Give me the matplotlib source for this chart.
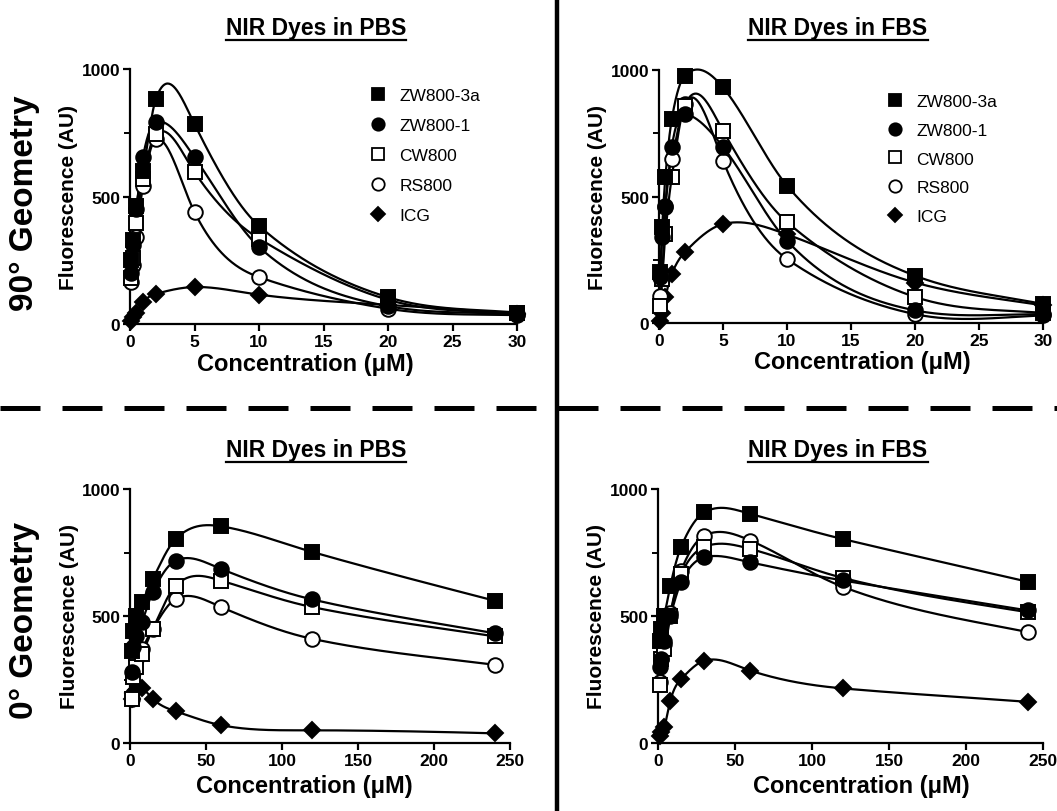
import numpy as np
import matplotlib
matplotlib.use("Agg")
import matplotlib.pyplot as plt
from matplotlib.lines import Line2D
from matplotlib.ticker import MultipleLocator

plt.rcParams['font.family'] = ['Liberation Sans', 'DejaVu Sans']

# ---------------- data ----------------
dyes = ["ZW800-3a", "ZW800-1", "CW800", "RS800", "ICG"]

conc_90 = [0.1, 0.25, 0.5, 1, 2, 5, 10, 20, 30]
conc_0 = [1, 2, 4, 8, 15, 30, 60, 120, 240]

pbs_90 = {
    "ZW800-3a": [250, 330, 464, 600, 882, 784, 385, 105, 45],
    "ZW800-1": [200, 310, 450, 654, 792, 654, 302, 70, 40],
    "CW800": [180, 260, 395, 570, 745, 596, 335, 95, 42],
    "RS800": [165, 230, 340, 540, 725, 439, 184, 60, 35],
    "ICG": [12, 28, 45, 85, 118, 145, 115, 75, 40],
}
fbs_90 = {
    "ZW800-3a": [200, 380, 578, 806, 977, 931, 543, 187, 75],
    "ZW800-1": [182, 340, 464, 696, 826, 696, 325, 50, 35],
    "CW800": [68, 174, 352, 577, 859, 760, 399, 103, 40],
    "RS800": [108, 182, 460, 648, 866, 641, 253, 35, 30],
    "ICG": [8, 40, 102, 194, 279, 391, 350, 160, 70],
}
pbs_0 = {
    "ZW800-3a": [363, 442, 500, 554, 646, 803, 853, 752, 560],
    "ZW800-1": [280, 378, 420, 476, 594, 718, 685, 565, 432],
    "CW800": [173, 260, 300, 350, 449, 619, 639, 535, 420],
    "RS800": [175, 280, 330, 370, 450, 567, 535, 410, 308],
    "ICG": [175, 195, 210, 215, 173, 125, 70, 50, 38],
}
fbs_0 = {
    "ZW800-3a": [400, 450, 501, 619, 772, 908, 902, 803, 635],
    "ZW800-1": [300, 330, 400, 500, 633, 731, 711, 640, 522],
    "CW800": [230, 330, 370, 500, 665, 772, 764, 650, 515],
    "RS800": [240, 330, 390, 510, 678, 816, 797, 615, 437],
    "ICG": [29, 45, 62, 167, 252, 324, 285, 215, 162],
}

titles = ["NIR Dyes in PBS", "NIR Dyes in FBS", "NIR Dyes in PBS", "NIR Dyes in FBS"]
row_labels = ["90° Geometry", "0° Geometry"]
xlabel = "Concentration (μM)"
ylabel = "Fluorescence (AU)"

styles = {
    "ZW800-3a": dict(marker='s', mfc='black', ms=9.5),
    "ZW800-1": dict(marker='o', mfc='black', ms=10.5),
    "CW800": dict(marker='s', mfc='white', ms=9.5),
    "RS800": dict(marker='o', mfc='white', ms=10.5),
    "ICG": dict(marker='D', mfc='black', ms=8.5),
}
draw_order = ["ICG", "RS800", "CW800", "ZW800-1", "ZW800-3a"]


def smooth_curve(x, y, n=500, w=0.5):
    """Hermite curve through the data points; knot slopes are a blend of
    natural-cubic-spline slopes and Catmull-Rom slopes."""
    x = np.asarray(x, float)
    y = np.asarray(y, float)
    k = len(x)
    h = np.diff(x)
    A = np.zeros((k, k))
    r = np.zeros(k)
    A[0, 0] = 1
    A[-1, -1] = 1
    for i in range(1, k - 1):
        A[i, i - 1] = h[i - 1]
        A[i, i] = 2 * (h[i - 1] + h[i])
        A[i, i + 1] = h[i]
        r[i] = 6 * ((y[i + 1] - y[i]) / h[i] - (y[i] - y[i - 1]) / h[i - 1])
    M = np.linalg.solve(A, r)
    d = np.diff(y) / h
    s_nat = np.zeros(k)
    s_nat[:-1] = d - h * (2 * M[:-1] + M[1:]) / 6
    s_nat[-1] = d[-1] + h[-1] * (M[-2] + 2 * M[-1]) / 6
    s_cr = np.zeros(k)
    s_cr[1:-1] = (y[2:] - y[:-2]) / (x[2:] - x[:-2])
    s_cr[0] = d[0]
    s_cr[-1] = d[-1]
    s = w * s_nat + (1 - w) * s_cr
    xs = np.linspace(x[0], x[-1], n)
    idx = np.clip(np.searchsorted(x, xs) - 1, 0, k - 2)
    hh = h[idx]
    t = (xs - x[idx]) / hh
    h00 = 2 * t ** 3 - 3 * t ** 2 + 1
    h10 = t ** 3 - 2 * t ** 2 + t
    h01 = -2 * t ** 3 + 3 * t ** 2
    h11 = t ** 3 - t ** 2
    ys = (h00 * y[idx] + h10 * hh * s[idx] + h01 * y[idx + 1]
          + h11 * hh * s[idx + 1])
    return xs, ys


W, H = 1057, 812
fig = plt.figure(figsize=(W / 100, H / 100), dpi=100)


def fr(l, r, b, t):
    return [l / W, 1 - b / H, (r - l) / W, (b - t) / H]


panels = [
    (fr(130, 517, 325, 70), conc_90, pbs_90, 30, 5, True, 0.452, -0.108),
    (fr(659, 1043, 324, 71), conc_90, fbs_90, 30, 5, True, 0.529, -0.108),
    (fr(130, 510, 744, 490), conc_0, pbs_0, 250, 50, False, 0.46, -0.122),
    (fr(658, 1043, 744, 490), conc_0, fbs_0, 250, 50, False, 0.529, -0.122),
]

for k, (rect, xc, data, xmax, xstep, leg, xlab_c, xlab_y) in enumerate(panels):
    ax = fig.add_axes(rect)
    for dname in draw_order:
        st = styles[dname]
        xs, ys = smooth_curve(xc, data[dname])
        ax.plot(xs, ys, color='black', lw=1.6, clip_on=False, zorder=2)
        ax.plot(xc, data[dname], linestyle='none', marker=st['marker'],
                mfc=st['mfc'], mec='black', mew=1.4, ms=st['ms'],
                clip_on=False, zorder=3)
    ax.set_xlim(0, xmax)
    ax.set_ylim(0, 1000)
    ax.xaxis.set_major_locator(MultipleLocator(xstep))
    ax.yaxis.set_major_locator(MultipleLocator(500))
    ax.yaxis.set_minor_locator(MultipleLocator(250))
    for s in ['top', 'right']:
        ax.spines[s].set_visible(False)
    for s in ['left', 'bottom']:
        ax.spines[s].set_linewidth(1.6)
    ax.tick_params(which='major', direction='out', length=5, width=1.6,
                   labelsize=12.5, pad=2)
    ax.tick_params(which='minor', direction='out', length=4, width=1.4)
    for lab in ax.get_xticklabels() + ax.get_yticklabels():
        lab.set_fontweight('bold')
    ax.set_xlabel(xlabel, fontsize=17, fontweight='bold')
    ax.xaxis.set_label_coords(xlab_c, xlab_y)
    ax.set_ylabel(ylabel, fontsize=15, fontweight='bold')
    ax.yaxis.set_label_coords(-0.135, 0.5)
    if leg:
        handles = [Line2D([], [], linestyle='none', marker=styles[dd]['marker'],
                          mfc=styles[dd]['mfc'], mec='black', mew=1.3,
                          ms=styles[dd]['ms'] * 0.85) for dd in dyes]
        if k == 0:
            anchor, lsp = (369 / W, 1 - 89 / H), 0.86
        else:
            anchor, lsp = (886 / W, 1 - 95 / H), 0.78
        fig.legend(handles, dyes, loc='upper left', bbox_to_anchor=anchor,
                   frameon=False, fontsize=12.5, handlelength=1.0,
                   handletextpad=0.75, labelspacing=lsp, borderpad=0,
                   borderaxespad=0)

# titles with underline
title_pos = [(316, 28), (838, 28), (316, 450), (838, 450)]
title_texts = []
for (tx, ty), t in zip(title_pos, titles):
    tt = fig.text(tx / W, 1 - ty / H, t, fontsize=16.5, fontweight='bold',
                  ha='center', va='center')
    title_texts.append(tt)

for tx, ty, lab in [(25, 203, row_labels[0]), (25, 620, row_labels[1])]:
    fig.text(tx / W, 1 - ty / H, lab, fontsize=24, fontweight='bold',
             rotation=90, ha='center', va='center')

fig.canvas.draw()
renderer = fig.canvas.get_renderer()
for tt in title_texts:
    bb = tt.get_window_extent(renderer)
    yline = bb.y0 - 1
    fig.add_artist(Line2D([bb.x0 / W, bb.x1 / W], [yline / H, yline / H],
                          color='black', lw=1.6, transform=fig.transFigure))

# dividers
fig.add_artist(Line2D([557 / W, 557 / W], [0, 1], color='black', lw=3.2,
                      transform=fig.transFigure))
fig.add_artist(Line2D([0, 1], [1 - 409 / H, 1 - 409 / H], color='black',
                      lw=3.6, dashes=(8.0, 4.4), dash_capstyle='butt',
                      transform=fig.transFigure))

fig.savefig("out.png", dpi=100)
